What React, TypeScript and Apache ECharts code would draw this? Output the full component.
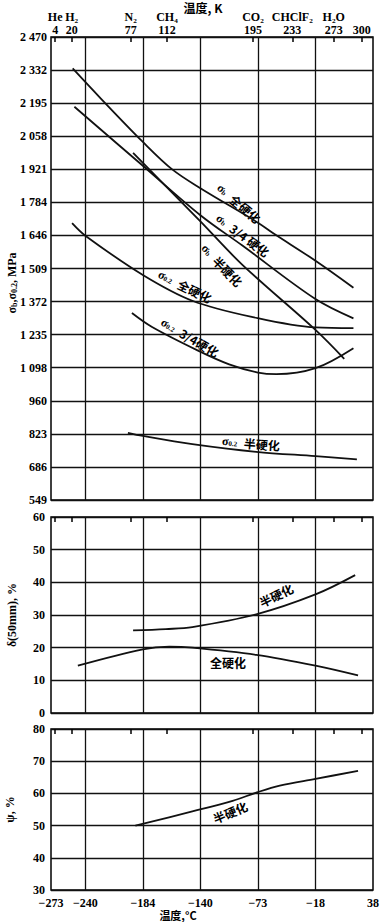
import { useEffect, useRef } from 'react';
import * as echarts from 'echarts';

// The chart's grid is linear in °F: positions are kept in °F, labels are °C / K.
const cTickPosF = [-459.67, -400, -300, -200, -100, 0, 100];
const cTickLabels = ['−273', '−240', '−184', '−140', '−73', '−18', '38'];
const gridLinesF = [-400, -300, -200, -100, 0];
const kTicks = [4, 20, 77, 112, 195, 233, 273, 300];
const kNames = ['He', 'H₂', 'N₂', 'CH₄', 'CO₂', 'CHClF₂', 'H₂O', ''];
const mpaLabels = ['549', '686', '823', '960', '1 098', '1 235', '1 372', '1 509', '1 646', '1 784', '1 921', '2 058', '2 195', '2 332', '2 470'];

// Panel 1: strength, MPa
const sbFullF = [-422, -373, -300, -249, -200, -100, -74, 0, 66];
const sbFull = [2340, 2215, 2035, 1921, 1843, 1700, 1657, 1542, 1430];
const sb34F = [-419, -300, -200, -127, 0, 66];
const sb34 = [2181, 1936, 1731, 1605, 1383, 1303];
const sbHalfF = [-317, -200, -127, 0, 50];
const sbHalf = [1990, 1705, 1525, 1255, 1135];
const s02FullF = [-423, -400, -300, -214, -109, 0, 66];
const s02Full = [1698, 1646, 1483, 1376, 1308, 1265, 1262];
const s0234F = [-319, -284, -205, -150, -100, -68, 0, 66];
const s0234 = [1325, 1267, 1170, 1112, 1078, 1071, 1096, 1179];
const s02HalfF = [-326, -300, -214, -103, 0, 72];
const s02Half = [828, 815, 781, 749, 731, 718];

// Panel 2: elongation δ(50mm), %
const dHalfF = [-317, -260, -214, -103, 0, 69];
const dHalf = [25.3, 25.7, 26.3, 30.2, 36.3, 42.2];
const dFullF = [-413, -300, -254, -214, -103, 0, 74];
const dFull = [14.5, 19.5, 20.3, 20.0, 17.8, 14.5, 11.5];

// Panel 3: reduction of area ψ, %
const psiF = [-313, -214, -144, -102, -62, 0, 74];
const psi = [50, 54.4, 57.7, 60.3, 62.4, 64.5, 67.0];

const SERIF = "'Liberation Serif', 'DejaVu Serif', serif";
const CJK = "'Noto Sans CJK SC', sans-serif";
const LEFT = 51;
const WIDTH = 322;
const grids = [
  { top: 37, height: 463 },
  { top: 517, height: 196 },
  { top: 729, height: 161 },
];

const kToF = (k: number) => k * 1.8 - 459.67;
const kF = kTicks.map(kToF);
const closest = (arr: number[], v: number) => {
  let bi = 0;
  arr.forEach((a, i) => {
    if (Math.abs(a - v) < Math.abs(arr[bi] - v)) bi = i;
  });
  return bi;
};
const zip = (xs: number[], ys: number[]) => xs.map((x, i) => [x, ys[i]]);

const labelText = { fontFamily: SERIF, fontSize: 12, fontWeight: 'bold' as const, color: '#000' };

export default function App() {
  const ref = useRef<HTMLDivElement>(null);
  useEffect(() => {
    if (!ref.current) return;
    const chart = echarts.init(ref.current, undefined, { renderer: 'svg' });
    const xAxis: any[] = [];
    grids.forEach((_, g) => {
      xAxis.push({
        type: 'value', gridIndex: g, position: 'bottom', min: -459.67, max: 100,
        axisLine: { show: false },
        axisTick: { show: false, customValues: gridLinesF },
        splitLine: { show: true, lineStyle: { color: '#111', width: 1.3 } },
        axisLabel: g === 2
          ? { show: true, customValues: cTickPosF, margin: 7, ...labelText,
              formatter: (v: number) => cTickLabels[closest(cTickPosF, v)] }
          : { show: false },
      });
      xAxis.push({
        type: 'value', gridIndex: g, position: 'top', min: -459.67, max: 100,
        axisLine: { show: false },
        axisTick: { show: true, inside: true, length: 5, customValues: kF, lineStyle: { color: '#000', width: 1.5 } },
        splitLine: { show: false },
        axisLabel: g === 0
          ? { show: true, customValues: kF, margin: 1, ...labelText,
              formatter: (v: number) => {
                const i = closest(kF, v);
                return kNames[i] ? `{n|${kNames[i]}}\n{v|${kTicks[i]}}` : `{v|${kTicks[i]}}`;
              },
              rich: { n: { ...labelText, lineHeight: 13 }, v: { ...labelText, lineHeight: 13 } } }
          : { show: false },
      });
    });
    const ySplit = { show: true, lineStyle: { color: '#111', width: 1.3 } };
    const yAxis: any[] = [
      {
        type: 'value', gridIndex: 0, min: 549, max: 2470.5, interval: 137.25,
        axisLine: { show: false }, axisTick: { show: false }, splitLine: ySplit,
        axisLabel: { margin: 4, ...labelText, formatter: (v: number) => mpaLabels[Math.round((v - 549) / 137.25)] },
      },
      {
        type: 'value', gridIndex: 1, min: 0, max: 60, interval: 10,
        axisLine: { show: false }, axisTick: { show: false }, splitLine: ySplit,
        axisLabel: { margin: 6, ...labelText },
        name: 'δ(50mm), %', nameLocation: 'middle', nameRotate: 90, nameGap: 33,
        nameTextStyle: { ...labelText },
      },
      {
        type: 'value', gridIndex: 2, min: 30, max: 80, interval: 10,
        axisLine: { show: false }, axisTick: { show: false }, splitLine: ySplit,
        axisLabel: { margin: 6, ...labelText },
        name: 'ψ, %', nameLocation: 'middle', nameRotate: 90, nameGap: 35,
        nameTextStyle: { ...labelText },
      },
    ];
    const line = (g: number, xs: number[], ys: number[]) => ({
      type: 'line', xAxisIndex: 2 * g, yAxisIndex: g, data: zip(xs, ys), smooth: 0.35,
      showSymbol: false, silent: true, lineStyle: { color: '#111', width: 1.8 },
    });
    const cjk = (text: string, x: number, y: number, rotation = 0, size = 12) => ({
      type: 'text', x, y, rotation,
      style: { text, font: `bold ${size}px ${CJK}`, fill: '#000', align: 'center', verticalAlign: 'middle' },
    });
    const sig = (sub: string, rest: string, x: number, y: number, rotation: number) => ({
      type: 'text', x, y, rotation,
      style: {
        text: `{a|σ}{b|${sub}}  {c|${rest}}`, align: 'center', verticalAlign: 'middle',
        rich: {
          a: { fontFamily: SERIF, fontSize: 12, fontWeight: 'bold', fill: '#000' },
          b: { fontFamily: SERIF, fontSize: 7, fontWeight: 'bold', fill: '#000', padding: [5, 0, 0, 0] },
          c: { fontFamily: CJK, fontSize: 12, fontWeight: 'bold', fill: '#000' },
        },
      },
    });
    const yName1 = {
      type: 'text', x: 12, y: 283, rotation: Math.PI / 2,
      style: {
        text: '{t|σ}{s|b}{t|,σ}{s|0.2}{t|, MPa}', align: 'center', verticalAlign: 'middle',
        rich: {
          t: { fontFamily: SERIF, fontSize: 12, fontWeight: 'bold', fill: '#000' },
          s: { fontFamily: SERIF, fontSize: 8, fontWeight: 'bold', fill: '#000', padding: [5, 0, 0, 0] },
        },
      },
    };
    chart.setOption({
      animation: false,
      backgroundColor: '#fff',
      grid: grids.map((gd) => ({
        left: LEFT, width: WIDTH, top: gd.top, height: gd.height, containLabel: false,
        outerBoundsMode: 'none', show: true, borderColor: '#000', borderWidth: 1.5, backgroundColor: 'transparent',
      })),
      xAxis,
      yAxis,
      series: [
        line(0, sbFullF, sbFull),
        line(0, sb34F, sb34),
        line(0, sbHalfF, sbHalf),
        line(0, s02FullF, s02Full),
        line(0, s0234F, s0234),
        line(0, s02HalfF, s02Half),
        line(1, dHalfF, dHalf),
        line(1, dFullF, dFull),
        line(2, psiF, psi),
      ],
      graphic: [
        yName1,
        cjk('温度, K', 203, 7),
        cjk('温度,°C', 178, 915, 0, 11),
        sig('b', '全硬化', 239, 203, -0.7),
        sig('b', '3/4 硬化', 243, 235, -0.63),
        sig('b', '半硬化', 222, 265, -0.8),
        sig('0.2', '全硬化', 185, 286, -0.45),
        sig('0.2', '3/4硬化', 190, 337, -0.52),
        sig('0.2', '半硬化', 251, 443, -0.08),
        cjk('半硬化', 276, 595, 0.45),
        cjk('全硬化', 228, 662, 0),
        cjk('半硬化', 230, 812, 0.4),
      ],
    });
    return () => chart.dispose();
  }, []);
  return <div ref={ref} style={{ position: 'absolute', left: 0, top: 0, width: 380, height: 922 }} />;
}
